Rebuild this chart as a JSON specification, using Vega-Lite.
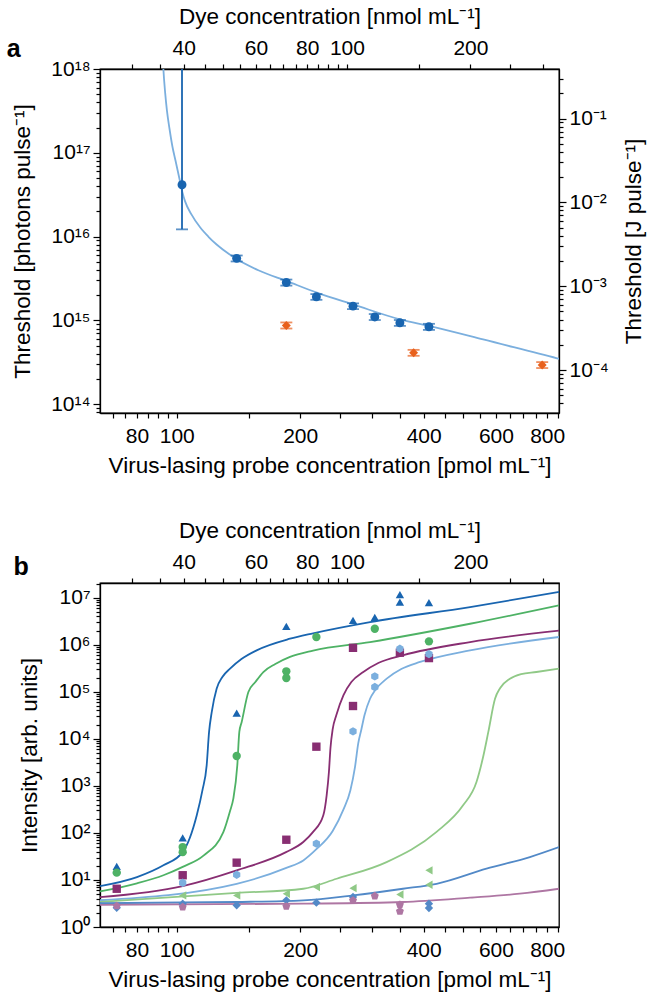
{
  "$schema": "https://vega.github.io/schema/vega-lite/v6.json",
  "padding": {"left": 5, "top": 4, "right": 5, "bottom": 5},
  "config": {
    "font": "Liberation Sans",
    "view": {"stroke": "black", "strokeWidth": 1.3},
    "axis": {"domainColor": "black", "domainWidth": 1.3, "tickColor": "black", "tickWidth": 1.2, "labelColor": "black", "titleColor": "black", "labelFontSize": 21, "titleFontSize": 22.5, "titleFontWeight": "normal", "grid": false, "labelFont": "Liberation Sans", "titleFont": "Liberation Sans", "labelOverlap": false, "labelFlush": false},
    "title": {"font": "Liberation Sans", "color": "black"}
  },
  "spacing": 40,
  "resolve": {"scale": {"color": "independent", "shape": "independent"}},
  "datasets": {
    "curveA": [
      {"probe": 92.55, "photons": 1.256e18}, {"probe": 92.8, "photons": 9.81e17}, {"probe": 93.7, "photons": 5.22e17}, {"probe": 94.65, "photons": 3.19e17}, {"probe": 96.0, "photons": 1.95e17}, {"probe": 97.6, "photons": 1.19e17}, {"probe": 99.3, "photons": 8.09e16}, {"probe": 101.5, "photons": 4.94e16}, {"probe": 103.25, "photons": 3.37e16}, {"probe": 104.8, "photons": 2.63e16}, {"probe": 108.6, "photons": 1.84e16}, {"probe": 114.0, "photons": 1.29e16}, {"probe": 119.5, "photons": 9.95e15}, {"probe": 124.9, "photons": 8.1e15}, {"probe": 137.4, "photons": 5.71e15}, {"probe": 158.1, "photons": 3.97e15}, {"probe": 185.6, "photons": 2.94e15}, {"probe": 219.6, "photons": 2.14e15}, {"probe": 270.2, "photons": 1.54e15}, {"probe": 351.8, "photons": 1.022e15}, {"probe": 413.9, "photons": 8.55e14}, {"probe": 558.6, "photons": 5.94e14}, {"probe": 846, "photons": 3.53e14}, {"probe": 860.5, "photons": 3.46e14}
    ],
    "pointsA": [
      {"series": "blue", "probe": 103, "photons": 4.16e16, "lo": 1.22e16, "hi": 3e18},
      {"series": "blue", "probe": 140, "photons": 5.5e15, "lo": 5.05e15, "hi": 5.95e15},
      {"series": "blue", "probe": 185, "photons": 2.83e15, "lo": 2.6e15, "hi": 3.07e15},
      {"series": "blue", "probe": 219, "photons": 1.91e15, "lo": 1.76e15, "hi": 2.06e15},
      {"series": "blue", "probe": 269, "photons": 1.48e15, "lo": 1.36e15, "hi": 1.6e15},
      {"series": "blue", "probe": 304, "photons": 1.1e15, "lo": 1.01e15, "hi": 1.19e15},
      {"series": "blue", "probe": 350, "photons": 9.35e14, "lo": 8.6e14, "hi": 1.01e15},
      {"series": "blue", "probe": 412, "photons": 8.39e14, "lo": 7.7e14, "hi": 9.1e14},
      {"series": "orange", "probe": 185, "photons": 8.71e14, "lo": 8.0e14, "hi": 9.45e14},
      {"series": "orange", "probe": 378, "photons": 4.11e14, "lo": 3.78e14, "hi": 4.45e14},
      {"series": "orange", "probe": 778, "photons": 2.94e14, "lo": 2.7e14, "hi": 3.18e14}
    ],
    "axisA": [{"dye": 30, "joule": 1e-4}, {"dye": 100, "joule": 1e-2}],
    "curvesB": [
      {"series": "s1", "probe": 65, "intensity": 7.4}, {"series": "s1", "probe": 80, "intensity": 11.5}, {"series": "s1", "probe": 92.8, "intensity": 20.5}, {"series": "s1", "probe": 103.4, "intensity": 39}, {"series": "s1", "probe": 111.9, "intensity": 237}, {"series": "s1", "probe": 115.5, "intensity": 800}, {"series": "s1", "probe": 118.3, "intensity": 2735}, {"series": "s1", "probe": 119.9, "intensity": 14000}, {"series": "s1", "probe": 121.7, "intensity": 37000}, {"series": "s1", "probe": 125.1, "intensity": 116000}, {"series": "s1", "probe": 129.2, "intensity": 206000}, {"series": "s1", "probe": 134.9, "intensity": 310000}, {"series": "s1", "probe": 143.8, "intensity": 497000}, {"series": "s1", "probe": 156.6, "intensity": 760000}, {"series": "s1", "probe": 188.9, "intensity": 1340000}, {"series": "s1", "probe": 215, "intensity": 1750000}, {"series": "s1", "probe": 296, "intensity": 3030000}, {"series": "s1", "probe": 519, "intensity": 6300000}, {"series": "s1", "probe": 855, "intensity": 13200000},
      {"series": "s2", "probe": 65, "intensity": 5.7}, {"series": "s2", "probe": 80, "intensity": 8.5}, {"series": "s2", "probe": 92.8, "intensity": 12.6}, {"series": "s2", "probe": 103.4, "intensity": 19}, {"series": "s2", "probe": 116.2, "intensity": 33}, {"series": "s2", "probe": 129.9, "intensity": 104}, {"series": "s2", "probe": 135, "intensity": 300}, {"series": "s2", "probe": 137.4, "intensity": 533}, {"series": "s2", "probe": 140.5, "intensity": 2735}, {"series": "s2", "probe": 142.1, "intensity": 14000}, {"series": "s2", "probe": 144, "intensity": 22800}, {"series": "s2", "probe": 149.5, "intensity": 99000}, {"series": "s2", "probe": 155.5, "intensity": 161000}, {"series": "s2", "probe": 162.6, "intensity": 263000}, {"series": "s2", "probe": 173.9, "intensity": 389000}, {"series": "s2", "probe": 188.9, "intensity": 550000}, {"series": "s2", "probe": 215, "intensity": 750000}, {"series": "s2", "probe": 296, "intensity": 1140000}, {"series": "s2", "probe": 519, "intensity": 2790000}, {"series": "s2", "probe": 855, "intensity": 6870000},
      {"series": "s3", "probe": 65, "intensity": 4.3}, {"series": "s3", "probe": 103.4, "intensity": 7.4}, {"series": "s3", "probe": 140, "intensity": 16}, {"series": "s3", "probe": 184.7, "intensity": 39}, {"series": "s3", "probe": 203.5, "intensity": 64}, {"series": "s3", "probe": 215, "intensity": 105}, {"series": "s3", "probe": 227.7, "intensity": 237}, {"series": "s3", "probe": 232, "intensity": 630}, {"series": "s3", "probe": 235, "intensity": 2000}, {"series": "s3", "probe": 237, "intensity": 6300}, {"series": "s3", "probe": 240, "intensity": 16000}, {"series": "s3", "probe": 245, "intensity": 32000}, {"series": "s3", "probe": 255, "intensity": 85000}, {"series": "s3", "probe": 266.5, "intensity": 161000}, {"series": "s3", "probe": 285, "intensity": 263000}, {"series": "s3", "probe": 310, "intensity": 408000}, {"series": "s3", "probe": 357, "intensity": 600000}, {"series": "s3", "probe": 519, "intensity": 1140000}, {"series": "s3", "probe": 855, "intensity": 1990000},
      {"series": "s4", "probe": 65, "intensity": 3.7}, {"series": "s4", "probe": 140, "intensity": 8.3}, {"series": "s4", "probe": 185, "intensity": 18}, {"series": "s4", "probe": 203.5, "intensity": 26}, {"series": "s4", "probe": 219, "intensity": 45}, {"series": "s4", "probe": 240, "intensity": 110}, {"series": "s4", "probe": 255, "intensity": 316}, {"series": "s4", "probe": 265, "intensity": 800}, {"series": "s4", "probe": 272, "intensity": 2500}, {"series": "s4", "probe": 277, "intensity": 8000}, {"series": "s4", "probe": 282, "intensity": 16000}, {"series": "s4", "probe": 287, "intensity": 32000}, {"series": "s4", "probe": 296, "intensity": 71000}, {"series": "s4", "probe": 304.8, "intensity": 109000}, {"series": "s4", "probe": 325, "intensity": 190000}, {"series": "s4", "probe": 352.7, "intensity": 304000}, {"series": "s4", "probe": 392, "intensity": 430000}, {"series": "s4", "probe": 519, "intensity": 760000}, {"series": "s4", "probe": 855, "intensity": 1460000},
      {"series": "s5", "probe": 65, "intensity": 3.4}, {"series": "s5", "probe": 140, "intensity": 5.3}, {"series": "s5", "probe": 203.5, "intensity": 6.5}, {"series": "s5", "probe": 245.4, "intensity": 10.6}, {"series": "s5", "probe": 324.8, "intensity": 24}, {"series": "s5", "probe": 430, "intensity": 105}, {"series": "s5", "probe": 499, "intensity": 385}, {"series": "s5", "probe": 538, "intensity": 1208}, {"series": "s5", "probe": 558, "intensity": 4000}, {"series": "s5", "probe": 575, "intensity": 14000}, {"series": "s5", "probe": 597, "intensity": 71000}, {"series": "s5", "probe": 614.6, "intensity": 120000}, {"series": "s5", "probe": 649, "intensity": 189000}, {"series": "s5", "probe": 691, "intensity": 238000}, {"series": "s5", "probe": 753, "intensity": 263000}, {"series": "s5", "probe": 855, "intensity": 310000},
      {"series": "s6", "probe": 65, "intensity": 3.2}, {"series": "s6", "probe": 140, "intensity": 3.4}, {"series": "s6", "probe": 203.5, "intensity": 3.69}, {"series": "s6", "probe": 269, "intensity": 4.7}, {"series": "s6", "probe": 356, "intensity": 6.5}, {"series": "s6", "probe": 430, "intensity": 8.3}, {"series": "s6", "probe": 569, "intensity": 17.4}, {"series": "s6", "probe": 726, "intensity": 30.7}, {"series": "s6", "probe": 855, "intensity": 50},
      {"series": "s7", "probe": 65, "intensity": 2.95}, {"series": "s7", "probe": 203.5, "intensity": 3.13}, {"series": "s7", "probe": 356, "intensity": 3.4}, {"series": "s7", "probe": 519, "intensity": 4.2}, {"series": "s7", "probe": 686, "intensity": 5.1}, {"series": "s7", "probe": 855, "intensity": 6.5}
    ],
    "pointsB": [
      {"series": "s1", "probe": 71.4, "intensity": 19.5}, {"series": "s1", "probe": 71.4, "intensity": 16.5}, {"series": "s1", "probe": 103.4, "intensity": 78}, {"series": "s1", "probe": 140, "intensity": 35300}, {"series": "s1", "probe": 185, "intensity": 2460000}, {"series": "s1", "probe": 269, "intensity": 3300000}, {"series": "s1", "probe": 304, "intensity": 3820000}, {"series": "s1", "probe": 350, "intensity": 11600000}, {"series": "s1", "probe": 350, "intensity": 8070000}, {"series": "s1", "probe": 412, "intensity": 7800000},
      {"series": "s2", "probe": 71.4, "intensity": 14.3}, {"series": "s2", "probe": 103.4, "intensity": 50}, {"series": "s2", "probe": 103.4, "intensity": 39}, {"series": "s2", "probe": 140, "intensity": 4310}, {"series": "s2", "probe": 185, "intensity": 272000}, {"series": "s2", "probe": 185, "intensity": 196000}, {"series": "s2", "probe": 219, "intensity": 1460000}, {"series": "s2", "probe": 304, "intensity": 2190000}, {"series": "s2", "probe": 412, "intensity": 1180000},
      {"series": "s3", "probe": 71.4, "intensity": 6.5}, {"series": "s3", "probe": 103.4, "intensity": 12.6}, {"series": "s3", "probe": 140, "intensity": 23.3}, {"series": "s3", "probe": 185, "intensity": 71.6}, {"series": "s3", "probe": 219, "intensity": 6800}, {"series": "s3", "probe": 269, "intensity": 49800}, {"series": "s3", "probe": 269, "intensity": 860000}, {"series": "s3", "probe": 350, "intensity": 676000}, {"series": "s3", "probe": 412, "intensity": 520000},
      {"series": "s4", "probe": 103.4, "intensity": 8.7}, {"series": "s4", "probe": 140, "intensity": 12.9}, {"series": "s4", "probe": 219, "intensity": 59}, {"series": "s4", "probe": 269, "intensity": 14400}, {"series": "s4", "probe": 304, "intensity": 213000}, {"series": "s4", "probe": 304, "intensity": 126000}, {"series": "s4", "probe": 350, "intensity": 820000}, {"series": "s4", "probe": 412, "intensity": 630000},
      {"series": "s5", "probe": 103.4, "intensity": 4.7}, {"series": "s5", "probe": 140, "intensity": 4.7}, {"series": "s5", "probe": 185, "intensity": 5.1}, {"series": "s5", "probe": 219, "intensity": 7.1}, {"series": "s5", "probe": 269, "intensity": 6.7}, {"series": "s5", "probe": 350, "intensity": 4.9}, {"series": "s5", "probe": 412, "intensity": 16}, {"series": "s5", "probe": 412, "intensity": 7.9},
      {"series": "s6", "probe": 71.4, "intensity": 2.57}, {"series": "s6", "probe": 103.4, "intensity": 3.13}, {"series": "s6", "probe": 140, "intensity": 2.89}, {"series": "s6", "probe": 185, "intensity": 3.69}, {"series": "s6", "probe": 219, "intensity": 3.29}, {"series": "s6", "probe": 269, "intensity": 4.34}, {"series": "s6", "probe": 412, "intensity": 3.13}, {"series": "s6", "probe": 412, "intensity": 2.53},
      {"series": "s7", "probe": 71.4, "intensity": 2.8}, {"series": "s7", "probe": 103.4, "intensity": 2.66}, {"series": "s7", "probe": 185, "intensity": 2.75}, {"series": "s7", "probe": 269, "intensity": 3.69}, {"series": "s7", "probe": 304, "intensity": 4.56}, {"series": "s7", "probe": 350, "intensity": 2.98}, {"series": "s7", "probe": 350, "intensity": 2.16}
    ],
    "axisB": [{"dye": 30}, {"dye": 100}]
  },
  "vconcat": [
    {
      "width": 459,
      "height": 344,
      "title": {"text": "a", "anchor": "start", "frame": "bounds", "fontSize": 25, "fontWeight": "bold", "dy": 57, "dx": -5, "offset": 0},
      "layer": [
        {
          "layer": [
            {
              "data": {"name": "curveA"},
              "mark": {"type": "line", "color": "#7BAFDE", "strokeWidth": 1.8, "clip": true, "interpolate": "monotone"},
              "encoding": {
                "x": {"field": "probe", "type": "quantitative", "scale": {"type": "log", "domain": [65, 855], "nice": false}, "axis": {"orient": "bottom", "title": "Virus-lasing probe concentration [pmol mL⁻¹]", "values": [70, 75, 80, 85, 90, 95, 100, 150, 200, 250, 300, 350, 400, 450, 500, 550, 600, 650, 700, 750, 800, 850], "labelExpr": "indexof([80,100,200,400,600,800], datum.value) >= 0 ? '' + datum.value : ''", "tickSize": 5, "labelPadding": 7, "titlePadding": 8}},
                "y": {"field": "photons", "type": "quantitative", "scale": {"type": "log", "domain": [7.85e13, 1e18], "nice": false}, "axis": {"orient": "left", "title": "Threshold [photons pulse⁻¹]", "values": [8e13, 9e13, 1e14, 2e14, 3e14, 4e14, 5e14, 6e14, 7e14, 8e14, 9e14, 1e15, 2e15, 3e15, 4e15, 5e15, 6e15, 7e15, 8e15, 9e15, 1e16, 2e16, 3e16, 4e16, 5e16, 6e16, 7e16, 8e16, 9e16, 1e17, 2e17, 3e17, 4e17, 5e17, 6e17, 7e17, 8e17, 9e17, 1e18], "labelExpr": "abs(log(datum.value)/LN10-round(log(datum.value)/LN10))<0.001 ? '10'+replace(replace(replace(replace(replace(replace(replace(replace(replace(replace(replace(''+round(log(datum.value)/LN10),'-','⁻'),'0','⁰'),'1','¹'),'2','²'),'3','³'),'4','⁴'),'5','⁵'),'6','⁶'),'7','⁷'),'8','⁸'),'9','⁹') : ''", "tickSize": {"condition": {"test": "abs(log(datum.value)/LN10-round(log(datum.value)/LN10))<0.001", "value": 7}, "value": 4}, "labelPadding": 3, "titlePadding": 16}}
              }
            },
            {
              "data": {"name": "pointsA"},
              "mark": {"type": "rule", "strokeWidth": 1.8, "clip": true},
              "encoding": {
                "x": {"field": "probe", "type": "quantitative", "scale": {"type": "log", "domain": [65, 855], "nice": false}},
                "y": {"field": "lo", "type": "quantitative", "scale": {"type": "log", "domain": [7.85e13, 1e18], "nice": false}},
                "y2": {"field": "hi"},
                "color": {"field": "series", "type": "nominal", "scale": {"domain": ["blue", "orange"], "range": ["#1965B0", "#E8601C"]}, "legend": null}
              }
            },
            {
              "data": {"name": "pointsA"},
              "mark": {"type": "tick", "orient": "horizontal", "size": 12, "thickness": 1.8, "clip": true},
              "encoding": {
                "x": {"field": "probe", "type": "quantitative", "scale": {"type": "log", "domain": [65, 855], "nice": false}},
                "y": {"field": "lo", "type": "quantitative", "scale": {"type": "log", "domain": [7.85e13, 1e18], "nice": false}},
                "color": {"field": "series", "type": "nominal", "scale": {"domain": ["blue", "orange"], "range": ["#1965B0", "#E8601C"]}, "legend": null}
              }
            },
            {
              "data": {"name": "pointsA"},
              "mark": {"type": "tick", "orient": "horizontal", "size": 12, "thickness": 1.8, "clip": true},
              "encoding": {
                "x": {"field": "probe", "type": "quantitative", "scale": {"type": "log", "domain": [65, 855], "nice": false}},
                "y": {"field": "hi", "type": "quantitative", "scale": {"type": "log", "domain": [7.85e13, 1e18], "nice": false}},
                "color": {"field": "series", "type": "nominal", "scale": {"domain": ["blue", "orange"], "range": ["#1965B0", "#E8601C"]}, "legend": null}
              }
            },
            {
              "data": {"name": "pointsA"},
              "mark": {"type": "point", "filled": true, "opacity": 1, "size": 80},
              "encoding": {
                "x": {"field": "probe", "type": "quantitative", "scale": {"type": "log", "domain": [65, 855], "nice": false}},
                "y": {"field": "photons", "type": "quantitative", "scale": {"type": "log", "domain": [7.85e13, 1e18], "nice": false}},
                "color": {"field": "series", "type": "nominal", "scale": {"domain": ["blue", "orange"], "range": ["#1965B0", "#E8601C"]}, "legend": null},
                "shape": {"field": "series", "type": "nominal", "scale": {"domain": ["blue", "orange"], "range": ["circle", "diamond"]}, "legend": null}
              }
            }
          ]
        },
        {
          "data": {"name": "axisA"},
          "mark": {"type": "point", "opacity": 0},
          "encoding": {
            "x": {"field": "dye", "type": "quantitative", "scale": {"type": "log", "domain": [25, 328.8], "nice": false}, "axis": {"orient": "top", "title": "Dye concentration [nmol mL⁻¹]", "values": [30, 35, 40, 45, 50, 55, 60, 65, 70, 75, 80, 85, 90, 95, 100, 150, 200, 250, 300], "labelExpr": "indexof([40,60,80,100,200], datum.value) >= 0 ? '' + datum.value : ''", "tickSize": 5, "labelPadding": 6, "titlePadding": 9}}
          }
        },
        {
          "data": {"name": "axisA"},
          "mark": {"type": "point", "opacity": 0},
          "encoding": {
            "y": {"field": "joule", "type": "quantitative", "scale": {"type": "log", "domain": [3.07e-5, 0.39], "nice": false}, "axis": {"orient": "right", "title": "Threshold [J pulse⁻¹]", "titleAngle": 270, "titleBaseline": "top", "values": [4e-5, 5e-5, 6e-5, 7e-5, 8e-5, 9e-5, 1e-4, 2e-4, 3e-4, 4e-4, 5e-4, 6e-4, 7e-4, 8e-4, 9e-4, 1e-3, 2e-3, 3e-3, 4e-3, 5e-3, 6e-3, 7e-3, 8e-3, 9e-3, 1e-2, 2e-2, 3e-2, 4e-2, 5e-2, 6e-2, 7e-2, 8e-2, 9e-2, 1e-1, 2e-1, 3e-1], "labelExpr": "abs(log(datum.value)/LN10-round(log(datum.value)/LN10))<0.001 ? '10'+replace(replace(replace(replace(replace(replace(replace(replace(replace(replace(replace(''+round(log(datum.value)/LN10),'-','⁻'),'0','⁰'),'1','¹'),'2','²'),'3','³'),'4','⁴'),'5','⁵'),'6','⁶'),'7','⁷'),'8','⁸'),'9','⁹') : ''", "tickSize": {"condition": {"test": "abs(log(datum.value)/LN10-round(log(datum.value)/LN10))<0.001", "value": 7}, "value": 4}, "labelPadding": 3, "titlePadding": 14}}
          }
        }
      ],
      "resolve": {"scale": {"x": "independent", "y": "independent"}}
    },
    {
      "width": 459,
      "height": 344,
      "title": {"text": "b", "anchor": "start", "frame": "bounds", "fontSize": 25, "fontWeight": "bold", "dy": 61, "dx": -5, "offset": 0},
      "layer": [
        {
          "layer": [
            {
              "data": {"name": "curvesB"},
              "mark": {"type": "line", "strokeWidth": 1.8, "clip": true, "interpolate": "monotone"},
              "encoding": {
                "x": {"field": "probe", "type": "quantitative", "scale": {"type": "log", "domain": [65, 855], "nice": false}, "axis": {"orient": "bottom", "title": "Virus-lasing probe concentration [pmol mL⁻¹]", "values": [70, 75, 80, 85, 90, 95, 100, 150, 200, 250, 300, 350, 400, 450, 500, 550, 600, 650, 700, 750, 800, 850], "labelExpr": "indexof([80,100,200,400,600,800], datum.value) >= 0 ? '' + datum.value : ''", "tickSize": 5, "labelPadding": 7, "titlePadding": 8}},
                "y": {"field": "intensity", "type": "quantitative", "scale": {"type": "log", "domain": [1, 2.05e7], "nice": false}, "axis": {"orient": "left", "title": "Intensity [arb. units]", "values": [1, 2, 3, 4, 5, 6, 7, 8, 9, 10, 20, 30, 40, 50, 60, 70, 80, 90, 100, 200, 300, 400, 500, 600, 700, 800, 900, 1000, 2000, 3000, 4000, 5000, 6000, 7000, 8000, 9000, 10000, 20000, 30000, 40000, 50000, 60000, 70000, 80000, 90000, 100000, 200000, 300000, 400000, 500000, 600000, 700000, 800000, 900000, 1000000, 2000000, 3000000, 4000000, 5000000, 6000000, 7000000, 8000000, 9000000, 10000000, 20000000], "labelExpr": "abs(log(datum.value)/LN10-round(log(datum.value)/LN10))<0.001 ? '10'+replace(replace(replace(replace(replace(replace(replace(replace(replace(replace(replace(''+round(log(datum.value)/LN10),'-','⁻'),'0','⁰'),'1','¹'),'2','²'),'3','³'),'4','⁴'),'5','⁵'),'6','⁶'),'7','⁷'),'8','⁸'),'9','⁹') : ''", "tickSize": {"condition": {"test": "abs(log(datum.value)/LN10-round(log(datum.value)/LN10))<0.001", "value": 7}, "value": 4}, "labelPadding": 3, "titlePadding": 16}},
                "color": {"field": "series", "type": "nominal", "scale": {"domain": ["s1", "s2", "s3", "s4", "s5", "s6", "s7"], "range": ["#1965B0", "#4EB265", "#882E72", "#7BAFDE", "#90C987", "#5289C7", "#AE76A3"]}, "legend": null}
              }
            },
            {
              "data": {"name": "pointsB"},
              "mark": {"type": "point", "filled": true, "opacity": 1, "size": 70, "clip": true},
              "encoding": {
                "x": {"field": "probe", "type": "quantitative", "scale": {"type": "log", "domain": [65, 855], "nice": false}},
                "y": {"field": "intensity", "type": "quantitative", "scale": {"type": "log", "domain": [1, 2.05e7], "nice": false}},
                "color": {"field": "series", "type": "nominal", "scale": {"domain": ["s1", "s2", "s3", "s4", "s5", "s6", "s7"], "range": ["#1965B0", "#4EB265", "#882E72", "#7BAFDE", "#90C987", "#5289C7", "#AE76A3"]}, "legend": null},
                "shape": {"field": "series", "type": "nominal", "scale": {"domain": ["s1", "s2", "s3", "s4", "s5", "s6", "s7"], "range": ["triangle-up", "circle", "square", "M0,-1L0.866,-0.5L0.866,0.5L0,1L-0.866,0.5L-0.866,-0.5Z", "triangle-left", "diamond", "M0,-1L0.951,-0.309L0.588,0.809L-0.588,0.809L-0.951,-0.309Z"]}, "legend": null}
              }
            }
          ]
        },
        {
          "data": {"name": "axisB"},
          "mark": {"type": "point", "opacity": 0},
          "encoding": {
            "x": {"field": "dye", "type": "quantitative", "scale": {"type": "log", "domain": [25, 328.8], "nice": false}, "axis": {"orient": "top", "title": "Dye concentration [nmol mL⁻¹]", "values": [30, 35, 40, 45, 50, 55, 60, 65, 70, 75, 80, 85, 90, 95, 100, 150, 200, 250, 300], "labelExpr": "indexof([40,60,80,100,200], datum.value) >= 0 ? '' + datum.value : ''", "tickSize": 5, "labelPadding": 6, "titlePadding": 9}}
          }
        }
      ],
      "resolve": {"scale": {"x": "independent"}}
    }
  ]
}
